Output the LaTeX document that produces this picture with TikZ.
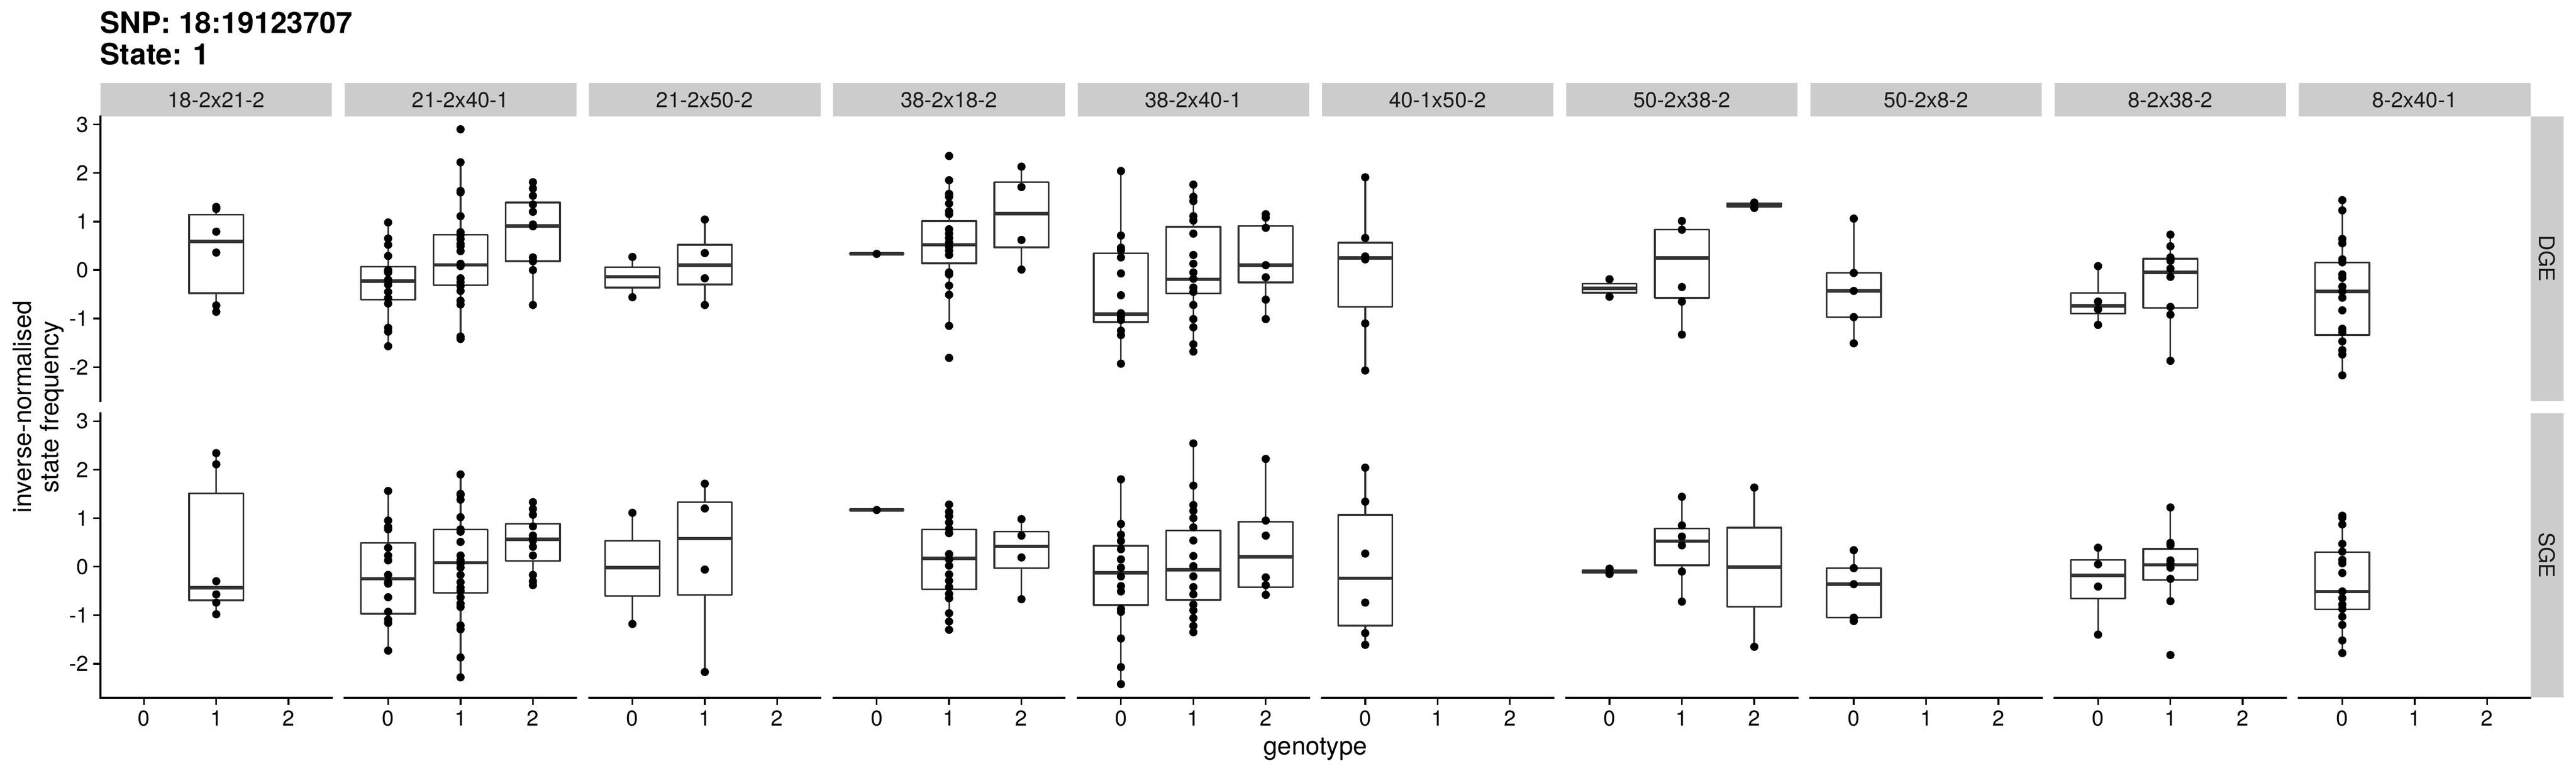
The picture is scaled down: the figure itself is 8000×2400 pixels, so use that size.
\documentclass[tikz,border=0pt]{standalone}
\usepackage{fontspec}
\setmainfont{TeX Gyre Heros}
\definecolor{stripgrey}{HTML}{CCCCCC}
\definecolor{boxgrey}{HTML}{333333}
\definecolor{labgrey}{HTML}{1A1A1A}

\tikzset{
  strip/.style={fill=stripgrey},
  striptext/.style={text=labgrey,font=\fontsize{19}{22}\selectfont},
  ticktext/.style={text=black,font=\fontsize{19}{22}\selectfont},
  axtitle/.style={text=black,font=\fontsize{22.3}{24.2}\selectfont},
  whisk/.style={draw=boxgrey,line width=1.5pt},
  boxline/.style={draw=boxgrey,fill=white,line width=1.5pt,line join=round},
  medline/.style={draw=boxgrey,line width=3.1pt},
  axisline/.style={draw=black,line width=1.55pt,line cap=rect},
  dot/.style={fill=black},
  cell/.style 2 args={shift={(#1,#2)},x=2.247cm,y=1.506cm}
}

% one box: genotype, lower whisker, q1, median, q3, upper whisker
\newcommand{\gbox}[6]{%
  \draw[whisk] (#1,#2) -- (#1,#3) (#1,#5) -- (#1,#6);
  \draw[boxline] (#1-0.375,#3) rectangle (#1+0.375,#5);
  \draw[medline] (#1-0.375,#4) -- (#1+0.375,#4);
}
% the points of one genotype
\newcommand{\gpts}[2]{%
  \foreach \v in {#2} \fill[dot] (#1,\v) circle[radius=0.128cm];
}

\begin{document}
\begin{tikzpicture}[x=0.01cm,y=-0.01cm]
\useasboundingbox (0,0) rectangle (8000,2400);
\fill[white] (0,0) rectangle (8000,2400);

% title
\node[anchor=base west,inner sep=0pt,font=\fontsize{26}{30}\selectfont\bfseries] (title) at (311,104) {SNP: 18:19123707};
\node[anchor=base west,inner sep=0pt,font=\fontsize{26}{30}\selectfont\bfseries] (state) at (311,200) {State: 1};

% strips on top, x axes and their labels
\foreach \lab [count=\i from 0] in {18-2x21-2,21-2x40-1,21-2x50-2,38-2x18-2,38-2x40-1,40-1x50-2,50-2x38-2,50-2x8-2,8-2x38-2,8-2x40-1}
{
  \pgfmathsetmacro\L{312+758.6*\i}
  \fill[strip] (\L,258) rectangle ++(719,103);
  \node[striptext,anchor=base] (strip\i) at (\L+359.5,334) {\lab};
  \draw[axisline] (\L,2166.5) -- ++(719,0);
  \foreach \g in {0,1,2}
  {
    \draw[axisline] (\L+134.8+224.7*\g,2166.5) -- ++(0,19);
    \node[ticktext,anchor=base] (xt\i\g) at (\L+134.8+224.7*\g,2253) {\g};
  }
}

% strips on the right
\fill[strip] (7859,361) rectangle (7961,1244);
\node[striptext,rotate=-90] (dge) at (7909.5,802.5) {DGE};
\fill[strip] (7859,1283) rectangle (7961,2165);
\node[striptext,rotate=-90] (sge) at (7909.5,1724) {SGE};

% y axes
\draw[axisline] (312,361) -- (312,1245);
\draw[axisline] (312,1282) -- (312,2166.5);
\foreach \r/\z in {A/838.4,B/1759.4}
  \foreach \v in {-2,...,3}
  {
    \draw[axisline] (293,\z-150.6*\v) -- (312,\z-150.6*\v);
    \node[ticktext,anchor=east,inner sep=0pt] (yt\r\v) at (275,\z-150.6*\v) {\v};
  }

% axis titles
\node[axtitle,rotate=90,align=center,inner sep=0pt] (ylab) at (119.5,1263) {inverse-normalised\\state frequency};
\node[axtitle,anchor=base] (xlab) at (4085,2343) {genotype};

% 18-2x21-2
\begin{scope}[cell={446.8}{838.4}]
\gbox{1}{-0.86}{-0.478}{0.589}{1.142}{1.30}
\gpts{1}{1.30,1.26,0.79,0.36,-0.73,-0.86}
\end{scope}
\begin{scope}[cell={446.8}{1759.4}]
\gbox{1}{-0.98}{-0.695}{-0.436}{1.509}{2.342}
\gpts{1}{2.34,2.11,-0.30,-0.57,-0.74,-0.98}
\end{scope}

% 21-2x40-1
\begin{scope}[cell={1205.4}{838.4}]
\gbox{0}{-1.57}{-0.610}{-0.224}{0.070}{0.98}
\gpts{0}{0.98,0.65,0.52,0.29,0.00,-0.02,-0.05,-0.20,-0.30,-0.45,-0.58,-0.69,-1.19,-1.27,-1.57}
\gbox{1}{-1.42}{-0.316}{0.106}{0.726}{2.224}
\gpts{1}{2.90,2.22,1.63,1.60,1.11,0.78,0.72,0.64,0.54,0.49,0.39,0.13,0.08,-0.17,-0.25,-0.33,-0.43,-0.63,-0.71,-1.37,-1.42}
\gbox{2}{-0.72}{0.182}{0.909}{1.391}{1.81}
\gpts{2}{1.81,1.68,1.53,1.35,1.20,0.94,0.90,0.26,0.18,0.00,-0.72}
\end{scope}
\begin{scope}[cell={1205.4}{1759.4}]
\gbox{0}{-1.732}{-0.970}{-0.248}{0.488}{1.555}
\gpts{0}{1.56,0.95,0.82,0.77,0.39,0.23,0.13,-0.17,-0.32,-0.35,-0.63,-0.93,-1.09,-1.16,-1.73}
\gbox{1}{-2.28}{-0.543}{0.082}{0.763}{1.90}
\gpts{1}{1.90,1.50,1.48,1.38,1.02,0.77,0.72,0.51,0.23,0.13,0.06,-0.02,-0.17,-0.32,-0.43,-0.50,-0.63,-0.76,-0.83,-1.21,-1.29,-1.87,-2.28}
\gbox{2}{-0.375}{0.122}{0.564}{0.884}{1.326}
\gpts{2}{1.33,1.19,1.07,0.83,0.64,0.59,0.54,0.41,0.23,-0.17,-0.30,-0.38}
\end{scope}

% 21-2x50-2
\begin{scope}[cell={1964.0}{838.4}]
\gbox{0}{-0.556}{-0.361}{-0.138}{0.057}{0.271}
\gpts{0}{0.27,-0.56}
\gbox{1}{-0.725}{-0.298}{0.102}{0.520}{1.035}
\gpts{1}{1.04,0.35,-0.17,-0.72}
\end{scope}
\begin{scope}[cell={1964.0}{1759.4}]
\gbox{0}{-1.180}{-0.601}{-0.024}{0.536}{1.114}
\gpts{0}{1.11,-1.18}
\gbox{1}{-2.166}{-0.584}{0.581}{1.328}{1.710}
\gpts{1}{1.71,1.20,-0.06,-2.17}
\end{scope}

% 38-2x18-2
\begin{scope}[cell={2722.6}{838.4}]
\gbox{0}{0.333}{0.333}{0.333}{0.333}{0.333}
\gpts{0}{0.333}
\gbox{1}{-1.152}{0.137}{0.520}{1.009}{1.853}
\gpts{1}{2.35,1.85,1.57,1.51,1.37,1.21,1.15,0.84,0.75,0.66,0.57,0.48,0.40,0.31,-0.05,-0.09,-0.32,-0.51,-1.15,-1.81}
\gbox{2}{0.013}{0.466}{1.160}{1.809}{2.129}
\gpts{2}{2.13,1.71,0.62,0.01}
\end{scope}
\begin{scope}[cell={2722.6}{1759.4}]
\gbox{0}{1.168}{1.168}{1.168}{1.168}{1.168}
\gpts{0}{1.168}
\gbox{1}{-1.295}{-0.468}{0.172}{0.768}{1.283}
\gpts{1}{1.28,1.13,1.04,0.91,0.78,0.69,0.26,0.15,0.02,-0.16,-0.29,-0.42,-0.56,-0.65,-0.96,-1.13,-1.30}
\gbox{2}{-0.673}{-0.033}{0.421}{0.723}{0.981}
\gpts{2}{0.98,0.64,0.19,-0.67}
\end{scope}

% 38-2x40-1
\begin{scope}[cell={3481.2}{838.4}]
\gbox{0}{-1.934}{-1.072}{-0.912}{0.342}{2.040}
\gpts{0}{2.04,0.71,0.46,0.41,0.26,-0.07,-0.52,-0.89,-0.96,-1.03,-1.25,-1.34,-1.93}
\gbox{1}{-1.677}{-0.485}{-0.192}{0.893}{1.755}
\gpts{1}{1.76,1.51,1.42,1.11,1.02,0.75,0.31,0.13,-0.05,-0.18,-0.36,-0.45,-0.72,-1.01,-1.18,-1.53,-1.68}
\gbox{2}{-1.010}{-0.254}{0.102}{0.911}{1.151}
\gpts{2}{1.15,1.08,0.87,0.10,-0.15,-0.61,-1.01}
\end{scope}
\begin{scope}[cell={3481.2}{1759.4}]
\gbox{0}{-2.424}{-0.788}{-0.122}{0.430}{1.799}
\gpts{0}{1.80,0.88,0.66,0.53,0.36,0.15,-0.02,-0.20,-0.40,-0.51,-0.87,-0.93,-1.48,-2.07,-2.42}
\gbox{1}{-1.348}{-0.682}{-0.060}{0.741}{2.537}
\gpts{1}{2.54,1.67,1.27,1.15,1.00,0.81,0.54,0.22,0.01,-0.20,-0.42,-0.57,-0.78,-0.90,-1.06,-1.22,-1.35}
\gbox{2}{-0.575}{-0.424}{0.207}{0.928}{2.217}
\gpts{2}{2.22,0.95,0.64,-0.22,-0.38,-0.58}
\end{scope}

% 40-1x50-2
\begin{scope}[cell={4239.8}{838.4}]
\gbox{0}{-2.068}{-0.761}{0.253}{0.564}{1.906}
\gpts{0}{1.91,0.66,0.28,0.22,-1.10,-2.07}
\end{scope}
\begin{scope}[cell={4239.8}{1759.4}]
\gbox{0}{-1.607}{-1.215}{-0.237}{1.070}{2.039}
\gpts{0}{2.04,1.34,0.27,-0.74,-1.37,-1.61}
\end{scope}

% 50-2x38-2
\begin{scope}[cell={4998.4}{838.4}]
\gbox{0}{-0.547}{-0.467}{-0.378}{-0.281}{-0.192}
\gpts{0}{-0.19,-0.55}
\gbox{1}{-1.330}{-0.574}{0.253}{0.831}{1.009}
\gpts{1}{1.01,0.83,-0.35,-0.65,-1.33}
\gbox{2}{1.28}{1.30}{1.335}{1.37}{1.39}
\gpts{2}{1.39,1.28}
\end{scope}
\begin{scope}[cell={4998.4}{1759.4}]
\gbox{0}{-0.15}{-0.12}{-0.095}{-0.07}{-0.04}
\gpts{0}{-0.04,-0.15}
\gbox{1}{-0.717}{0.029}{0.527}{0.785}{1.443}
\gpts{1}{1.44,0.85,0.62,0.44,-0.10,-0.72}
\gbox{2}{-1.651}{-0.824}{-0.006}{0.803}{1.630}
\gpts{2}{1.63,-1.65}
\end{scope}

% 50-2x8-2
\begin{scope}[cell={5757.0}{838.4}]
\gbox{0}{-1.508}{-0.974}{-0.432}{-0.058}{1.062}
\gpts{0}{1.06,-0.06,-0.43,-0.97,-1.51}
\end{scope}
\begin{scope}[cell={5757.0}{1759.4}]
\gbox{0}{-1.117}{-1.046}{-0.362}{-0.033}{0.341}
\gpts{0}{0.34,-0.03,-0.36,-1.05,-1.12}
\end{scope}

% 8-2x38-2
\begin{scope}[cell={6515.6}{838.4}]
\gbox{0}{-1.134}{-0.894}{-0.734}{-0.476}{0.084}
\gpts{0}{0.08,-0.65,-0.81,-1.13}
\gbox{1}{-1.872}{-0.779}{-0.050}{0.235}{0.733}
\gpts{1}{0.73,0.49,0.26,0.19,0.03,-0.14,-0.76,-0.92,-1.87}
\end{scope}
\begin{scope}[cell={6515.6}{1759.4}]
\gbox{0}{-1.402}{-0.655}{-0.175}{0.136}{0.394}
\gpts{0}{0.39,0.05,-0.41,-1.40}
\gbox{1}{-0.708}{-0.273}{0.038}{0.367}{1.221}
\gpts{1}{1.22,0.49,0.44,0.13,0.07,-0.02,-0.25,-0.71,-1.82}
\end{scope}

% 8-2x40-1
\begin{scope}[cell={7274.2}{838.4}]
\gbox{0}{-2.166}{-1.339}{-0.441}{0.155}{1.444}
\gpts{0}{1.44,1.23,0.64,0.55,0.22,0.16,-0.09,-0.16,-0.34,-0.44,-0.57,-0.83,-1.21,-1.28,-1.47,-1.65,-1.74,-2.17}
\end{scope}
\begin{scope}[cell={7274.2}{1759.4}]
\gbox{0}{-1.775}{-0.877}{-0.513}{0.296}{1.052}
\gpts{0}{1.05,1.01,0.87,0.47,0.31,0.14,0.07,-0.13,-0.51,-0.65,-0.78,-0.87,-1.03,-1.20,-1.52,-1.78}
\end{scope}
\end{tikzpicture}
\end{document}
